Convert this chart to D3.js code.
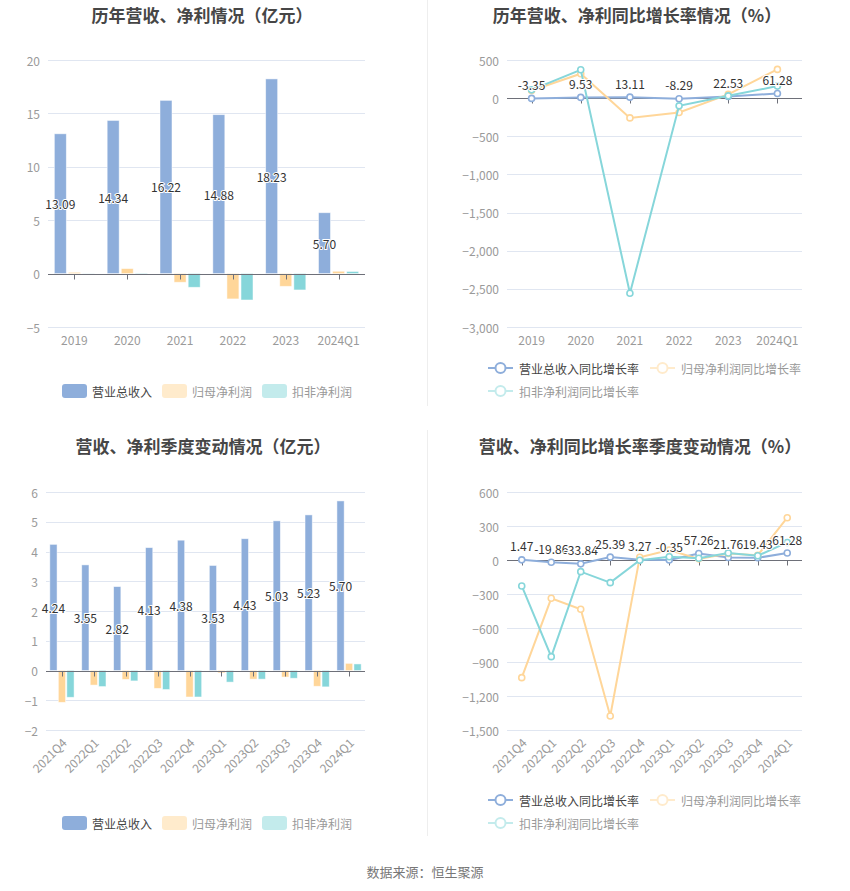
<!DOCTYPE html>
<html>
<head>
<meta charset="utf-8">
<script src="https://cdn.jsdelivr.net/npm/d3@7"></script>
<style>
  body { margin: 0; background: #fff; }
  svg { font-family: "Noto Sans CJK SC", "Noto Sans", sans-serif; }
</style>
</head>
<body>
<svg id="chart" width="850" height="891"></svg>
<script>
// ---- data ----
const years = ["2019", "2020", "2021", "2022", "2023", "2024Q1"];
const yearRevenue = [13.09, 14.34, 16.22, 14.88, 18.23, 5.70];
const yearNetProfit = [0.12, 0.47, -0.81, -2.37, -1.19, 0.22];
const yearDeducted = [0.02, 0.05, -1.28, -2.47, -1.53, 0.2];

const yearRevenueGrowth = [-3.35, 9.53, 13.11, -8.29, 22.53, 61.28];
const yearNetGrowth = [100, 320, -259, -188, 49, 377];
const yearDeductedGrowth = [109, 372, -2557, -101, 30, 158];

const quarters = ["2021Q4", "2022Q1", "2022Q2", "2022Q3", "2022Q4", "2023Q1", "2023Q2", "2023Q3", "2023Q4", "2024Q1"];
const qRevenue = [4.24, 3.55, 2.82, 4.13, 4.38, 3.53, 4.43, 5.03, 5.23, 5.70];
const qNetProfit = [-1.07, -0.49, -0.30, -0.60, -0.89, -0.08, -0.29, -0.22, -0.53, 0.24];
const qDeducted = [-0.90, -0.54, -0.35, -0.64, -0.89, -0.39, -0.29, -0.26, -0.55, 0.22];

const qRevenueGrowth = [1.47, -19.86, -33.84, 25.39, 3.27, -0.35, 57.26, 21.76, 19.43, 61.28];
const qNetGrowth = [-1038, -338, -435, -1376, 24, 88, 10, 58, 42, 373];
const qDeductedGrowth = [-229, -853, -103, -200, -2, 29, 15, 62, 38, 155];

const barNames = ["营业总收入", "归母净利润", "扣非净利润"];
const lineNames = ["营业总收入同比增长率", "归母净利润同比增长率", "扣非净利润同比增长率"];

const yearBarTicks = [20, 15, 10, 5, 0, -5];
const yearLineTicks = [500, 0, -500, -1000, -1500, -2000, -2500, -3000];
const qBarTicks = [6, 5, 4, 3, 2, 1, 0, -1, -2];
const qLineTicks = [600, 300, 0, -300, -600, -900, -1200, -1500];

const colors = ["#8eaedb", "#ffd699", "#86d6da"];
const legendColors = ["#8eaedb", "#ffebcc", "#c3ebec"];
const legendText = ["#444", "#999", "#999"];

const svg = d3.select("#chart");
const fmt = d3.format(",");

// dividers
svg.append("line").attr("x1", 427.5).attr("x2", 427.5).attr("y1", 0).attr("y2", 406)
  .attr("stroke", "#eeeeee");
svg.append("line").attr("x1", 427.5).attr("x2", 427.5).attr("y1", 430).attr("y2", 836)
  .attr("stroke", "#eeeeee");

function title(x, y, text) {
  svg.append("text").attr("x", x).attr("y", y).attr("text-anchor", "middle")
    .attr("dominant-baseline", "central")
    .attr("font-size", 17).attr("font-weight", "bold").attr("fill", "#464646").text(text);
}

function frame(cfg) {
  const g = svg.append("g");
  const x = d3.scaleBand().domain(cfg.cats).range([cfg.x0, cfg.x1]);
  const y = d3.scaleLinear().domain([cfg.ticks[cfg.ticks.length - 1], cfg.ticks[0]]).range([cfg.y1, cfg.y0]);

  // grid
  g.selectAll(".grid").data(cfg.ticks.filter(t => t !== 0)).join("line")
    .attr("x1", cfg.x0).attr("x2", cfg.x1)
    .attr("y1", d => Math.round(y(d)) + 0.5).attr("y2", d => Math.round(y(d)) + 0.5)
    .attr("stroke", "#e0e6f1");

  // y labels
  g.selectAll(".yl").data(cfg.ticks).join("text")
    .attr("x", cfg.x0 - 8).attr("y", d => y(d)).attr("text-anchor", "end")
    .attr("dominant-baseline", "central").attr("font-size", 12).attr("fill", "#9a9a9a")
    .text(d => fmt(d));

  // x labels
  const xl = g.selectAll(".xl").data(cfg.cats).join("text")
    .attr("font-size", 12).attr("fill", "#9a9a9a").text(d => d);
  if (cfg.rotate) {
    xl.attr("text-anchor", "end").attr("dominant-baseline", "central")
      .attr("transform", d => `translate(${x(d) + x.bandwidth() / 2 + 2},${cfg.y1 + 10}) rotate(-45)`);
  } else {
    xl.attr("x", d => x(d) + x.bandwidth() / 2).attr("y", cfg.y1 + 12)
      .attr("text-anchor", "middle").attr("dominant-baseline", "central");
  }
  return { g, x, y };
}

function zeroAxis(g, x, y, cfg) {
  const y0 = Math.round(y(0)) + 0.5;
  g.append("line").attr("x1", cfg.x0).attr("x2", cfg.x1).attr("y1", y0).attr("y2", y0)
    .attr("stroke", "#6e7079");
  g.selectAll(".tick").data(cfg.cats).join("line")
    .attr("x1", d => Math.round(x(d) + x.bandwidth() / 2) + 0.5)
    .attr("x2", d => Math.round(x(d) + x.bandwidth() / 2) + 0.5)
    .attr("y1", y0).attr("y2", y0 + 5).attr("stroke", "#6e7079");
}

function barChart(cfg) {
  title(cfg.titleX, cfg.titleY, cfg.title);
  const { g, x, y } = frame(cfg);
  const gw = x.bandwidth() * 0.76;
  const x1 = d3.scaleBand().domain([0, 1, 2]).range([-gw / 2, gw / 2]).paddingInner(0.15);

  cfg.series.forEach((vals, si) => {
    g.selectAll(".b" + si).data(vals).join("rect")
      .attr("x", (d, i) => x(cfg.cats[i]) + x.bandwidth() / 2 + x1(si))
      .attr("width", x1.bandwidth())
      .attr("y", d => y(Math.max(0, d)))
      .attr("height", d => Math.abs(y(d) - y(0)))
      .attr("fill", colors[si])
      .attr("stroke", "rgba(255,255,255,0.6)").attr("stroke-width", 0.8);
  });
  zeroAxis(g, x, y, cfg);

  // revenue labels inside bar middle
  g.selectAll(".lbl").data(cfg.series[0]).join("text")
    .attr("x", (d, i) => x(cfg.cats[i]) + x.bandwidth() / 2 + x1(0) + x1.bandwidth() / 2)
    .attr("y", d => (y(d) + y(0)) / 2)
    .attr("text-anchor", "middle").attr("dominant-baseline", "central")
    .attr("font-size", 12).attr("fill", "#333")
    .attr("stroke", "#fff").attr("stroke-width", 2).attr("paint-order", "stroke")
    .text(d => d.toFixed(2));

  // legend
  const lg = g.append("g");
  cfg.legendX.forEach((lx, i) => {
    lg.append("rect").attr("x", lx).attr("y", cfg.legendY - 7).attr("width", 25).attr("height", 14)
      .attr("rx", 3).attr("fill", legendColors[i]);
    lg.append("text").attr("x", lx + 30).attr("y", cfg.legendY).attr("dominant-baseline", "central")
      .attr("font-size", 12).attr("fill", legendText[i]).text(barNames[i]);
  });
}

function lineChart(cfg) {
  title(cfg.titleX, cfg.titleY, cfg.title);
  const { g, x, y } = frame(cfg);
  zeroAxis(g, x, y, cfg);
  const cx = (d, i) => x(cfg.cats[i]) + x.bandwidth() / 2;
  const line = d3.line().x(cx).y(d => y(d));

  cfg.series.forEach((vals, si) => {
    g.append("path").datum(vals).attr("d", line).attr("fill", "none")
      .attr("stroke", colors[si]).attr("stroke-width", 2);
    g.selectAll(".p" + si).data(vals).join("circle")
      .attr("cx", cx).attr("cy", d => y(d)).attr("r", 3)
      .attr("fill", "#fff").attr("stroke", colors[si]).attr("stroke-width", 1.6);
  });

  g.selectAll(".lbl").data(cfg.series[0]).join("text")
    .attr("x", cx).attr("y", d => y(d) - 14)
    .attr("text-anchor", "middle").attr("dominant-baseline", "central")
    .attr("font-size", 12).attr("fill", "#333")
    .attr("stroke", "#fff").attr("stroke-width", 2).attr("paint-order", "stroke")
    .text(d => d.toFixed(2));

  const pos = [[488, cfg.legendY], [650, cfg.legendY], [488, cfg.legendY + 23]];
  pos.forEach(([lx, ly], i) => {
    g.append("line").attr("x1", lx).attr("x2", lx + 25).attr("y1", ly).attr("y2", ly)
      .attr("stroke", legendColors[i]).attr("stroke-width", 2);
    g.append("circle").attr("cx", lx + 12.5).attr("cy", ly).attr("r", 5)
      .attr("fill", "#fff").attr("stroke", legendColors[i]).attr("stroke-width", 2);
    g.append("text").attr("x", lx + 31).attr("y", ly).attr("dominant-baseline", "central")
      .attr("font-size", 12).attr("fill", legendText[i]).text(lineNames[i]);
  });
}

barChart({
  title: "历年营收、净利情况（亿元）", titleX: 202, titleY: 14,
  cats: years, series: [yearRevenue, yearNetProfit, yearDeducted], ticks: yearBarTicks,
  x0: 48, x1: 365, y0: 60, y1: 327, legendX: [62, 162, 262], legendY: 391
});

lineChart({
  title: "历年营收、净利同比增长率情况（%）", titleX: 637, titleY: 14,
  cats: years, series: [yearRevenueGrowth, yearNetGrowth, yearDeductedGrowth], ticks: yearLineTicks,
  x0: 507, x1: 802, y0: 60, y1: 327, legendY: 368
});

barChart({
  title: "营收、净利季度变动情况（亿元）", titleX: 203, titleY: 445,
  cats: quarters, series: [qRevenue, qNetProfit, qDeducted], ticks: qBarTicks, rotate: true,
  x0: 46, x1: 365, y0: 492, y1: 730, legendX: [62, 162, 262], legendY: 823
});

lineChart({
  title: "营收、净利同比增长率季度变动情况（%）", titleX: 640, titleY: 445,
  cats: quarters, series: [qRevenueGrowth, qNetGrowth, qDeductedGrowth], ticks: qLineTicks, rotate: true,
  x0: 507, x1: 802, y0: 492, y1: 730, legendY: 800
});

svg.append("text").attr("x", 425).attr("y", 871).attr("text-anchor", "middle")
  .attr("dominant-baseline", "central").attr("font-size", 13).attr("fill", "#777")
  .text("数据来源：恒生聚源");
</script>
</body>
</html>
